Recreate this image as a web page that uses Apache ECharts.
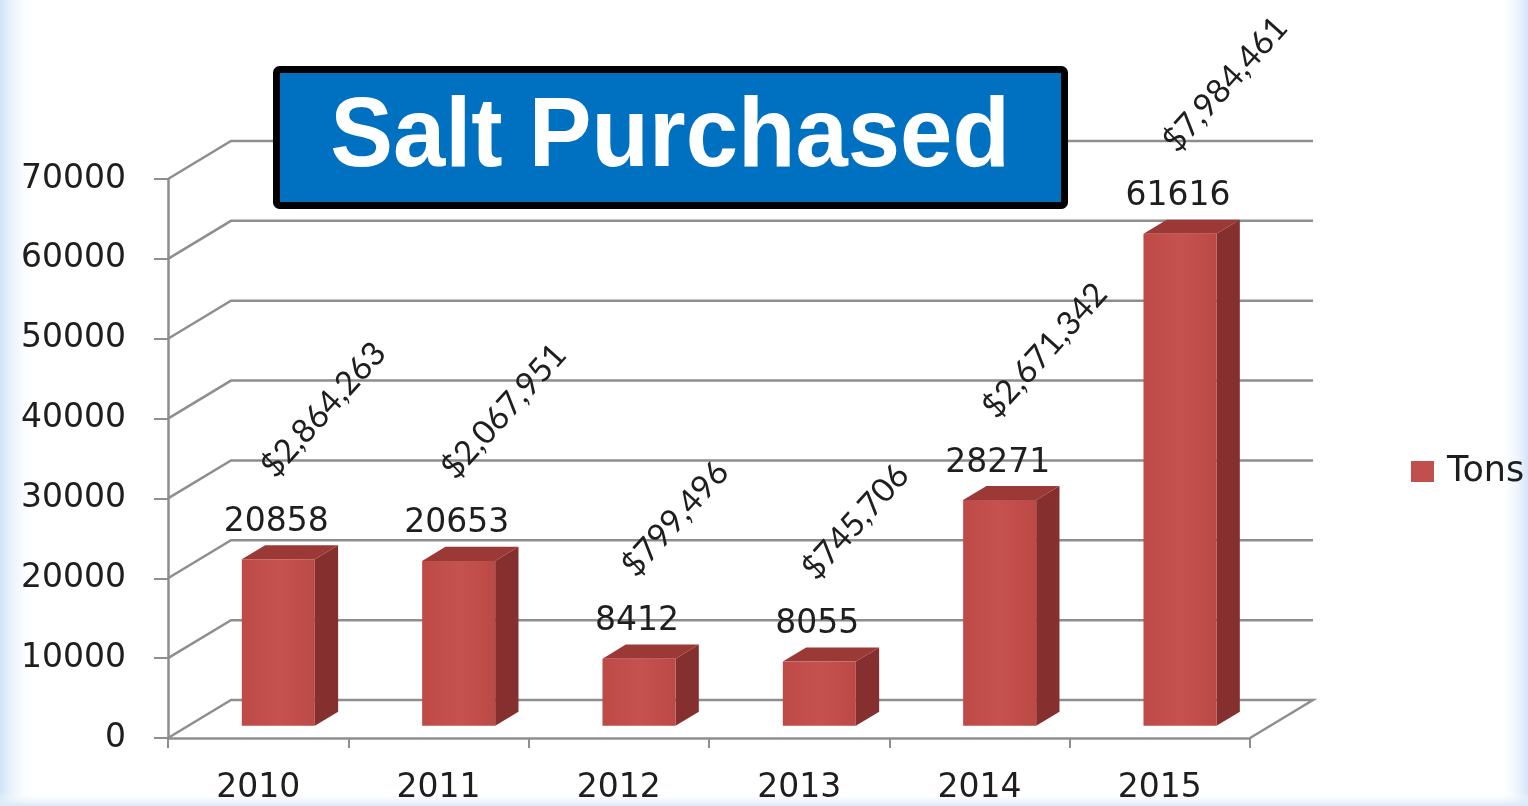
<!DOCTYPE html>
<html>
<head>
<meta charset="utf-8">
<script src="https://cdn.jsdelivr.net/npm/echarts@6/dist/echarts.min.js"></script>
<style>
  html, body { margin: 0; padding: 0; background: #fff; }
  #chart { width: 1528px; height: 806px; }
</style>
</head>
<body>
<div id="chart"></div>
<script>
// chart data
const years = ['2010', '2011', '2012', '2013', '2014', '2015'];
const tons = [20858, 20653, 8412, 8055, 28271, 61616];
const costs = ['$2,864,263', '$2,067,951', '$799,496', '$745,706', '$2,671,342', '$7,984,461'];
const yTicks = [0, 10000, 20000, 30000, 40000, 50000, 60000, 70000];

// fake 3d look: depth offset of the back wall, in px
const DX = 63;
const DY = -38;
const D_FRONT = 0.32;
const D_BACK = 0.69;
const BAR_RATIO = 0.405;

const labelFont = 'DejaVu Sans';
const textColor = '#1e1e1e';

function renderWall(params, api) {
  const cs = params.coordSys;
  const v = api.value(1);
  const y = api.coord([0, v])[1];
  const x0 = cs.x, x1 = cs.x + cs.width;
  const pts = [[x0, y], [x0 + DX, y + DY], [x1 + DX, y + DY]];
  if (v === 0) pts.push([x1, y]);
  return {
    type: 'polyline',
    shape: { points: pts },
    style: { stroke: '#8e8e8e', lineWidth: 2.5, fill: null }
  };
}

function renderBar(params, api) {
  const i = api.value(0);
  const v = api.value(1);
  const base = api.coord([i, 0]);
  const top = api.coord([i, v]);
  const w = api.size([1, 0])[0] * BAR_RATIO;
  const l = base[0] + DX * D_FRONT - w / 2;
  const r = l + w;
  const b = base[1] + DY * D_FRONT;
  const t = top[1] + DY * D_FRONT;
  const ox = DX * (D_BACK - D_FRONT);
  const oy = DY * (D_BACK - D_FRONT);
  const cx = (l + r) / 2;
  return {
    type: 'group',
    children: [
      {
        type: 'polygon',
        shape: { points: [[r, t], [r + ox, t + oy], [r + ox, b + oy], [r, b]] },
        style: { fill: '#85302e' }
      },
      {
        type: 'polygon',
        shape: { points: [[l, t], [r, t], [r + ox, t + oy], [l + ox, t + oy]] },
        style: { fill: '#9b3936' }
      },
      {
        type: 'rect',
        shape: { x: l, y: t, width: w, height: b - t },
        style: {
          fill: new echarts.graphic.LinearGradient(0, 0, 1, 0, [
            { offset: 0, color: '#bd4a47' },
            { offset: 0.5, color: '#c6524f' },
            { offset: 1, color: '#bb4946' }
          ])
        }
      },
      {
        type: 'text',
        x: cx - 2,
        y: t + oy - 23,
        style: {
          text: String(v),
          font: '33px "' + labelFont + '"',
          fill: textColor,
          align: 'center',
          verticalAlign: 'middle'
        }
      },
      {
        // dollar amount, tilted
        type: 'text',
        x: cx - 11,
        y: t - 87,
        rotation: 48 * Math.PI / 180,
        style: {
          text: costs[i],
          font: '33px Lato',
          fill: textColor,
          align: 'left',
          verticalAlign: 'middle'
        }
      }
    ]
  };
}

const chart = echarts.init(document.getElementById('chart'));
chart.setOption({
  animation: false,
  backgroundColor: '#fff',
  legend: {
    data: ['Tons'],
    left: 1406,
    top: 449,
    icon: 'rect',
    itemWidth: 23,
    itemHeight: 21,
    itemGap: 0,
    textStyle: { fontFamily: labelFont, fontSize: 35, color: textColor, padding: [0, 0, 0, 8] }
  },
  grid: { left: 168, right: 278, top: 179, bottom: 68 },
  xAxis: {
    type: 'category',
    data: years,
    axisLine: { lineStyle: { color: '#8e8e8e', width: 2.5 } },
    axisTick: { show: true, length: 10, interval: 0, lineStyle: { color: '#8e8e8e', width: 2 } },
    axisLabel: { margin: 34, fontFamily: labelFont, fontSize: 33, color: textColor }
  },
  yAxis: {
    type: 'value',
    min: 0,
    max: 70000,
    interval: 10000,
    axisLine: { show: true, lineStyle: { color: '#8e8e8e', width: 2.5 } },
    axisTick: { show: true, length: 14, lineStyle: { color: '#8e8e8e', width: 2 } },
    splitLine: { show: false },
    axisLabel: {
      margin: 42, fontFamily: labelFont, fontSize: 33, color: textColor,
      formatter: v => String(v)
    }
  },
  series: [
    {
      name: 'walls',
      type: 'custom',
      renderItem: renderWall,
      clip: false,
      silent: true,
      encode: { x: 0, y: 1 },
      data: yTicks.map(v => [0, v]),
      z: 1
    },
    {
      name: 'Tons',
      type: 'custom',
      renderItem: renderBar,
      clip: false,
      itemStyle: { color: '#c0504d' },
      encode: { x: 0, y: 1 },
      data: tons.map((v, i) => [i, v]),
      z: 2
    }
  ],
  graphic: [
    {
      type: 'rect', left: 0, top: 0, z: -10, silent: true,
      shape: { width: 36, height: 806 },
      style: { fill: new echarts.graphic.LinearGradient(0, 0, 1, 0, [
        { offset: 0, color: '#cfe3f7' }, { offset: 1, color: 'rgba(255,255,255,0)' }]) }
    },
    {
      type: 'rect', right: 0, top: 0, z: -10, silent: true,
      shape: { width: 30, height: 806 },
      style: { fill: new echarts.graphic.LinearGradient(0, 0, 1, 0, [
        { offset: 0, color: 'rgba(255,255,255,0)' }, { offset: 1, color: '#d3e5f7' }]) }
    },
    {
      type: 'rect', left: 0, bottom: 0, z: -10, silent: true,
      shape: { width: 1528, height: 14 },
      style: { fill: new echarts.graphic.LinearGradient(0, 0, 0, 1, [
        { offset: 0, color: 'rgba(255,255,255,0)' }, { offset: 1, color: '#d9e8f8' }]) }
    },
    {
      type: 'rect', z: 100,
      shape: { x: 276.5, y: 69.5, width: 788, height: 136, r: 3 },
      style: { fill: '#0070c0', stroke: '#000', lineWidth: 7 }
    },
    {
      type: 'text', z: 101,
      x: 670, y: 139,
      scaleX: 0.96,
      style: {
        text: 'Salt Purchased',
        font: 'bold 98px "Liberation Sans"',
        fill: '#fff',
        align: 'center',
        verticalAlign: 'middle'
      }
    }
  ]
});
</script>
</body>
</html>
